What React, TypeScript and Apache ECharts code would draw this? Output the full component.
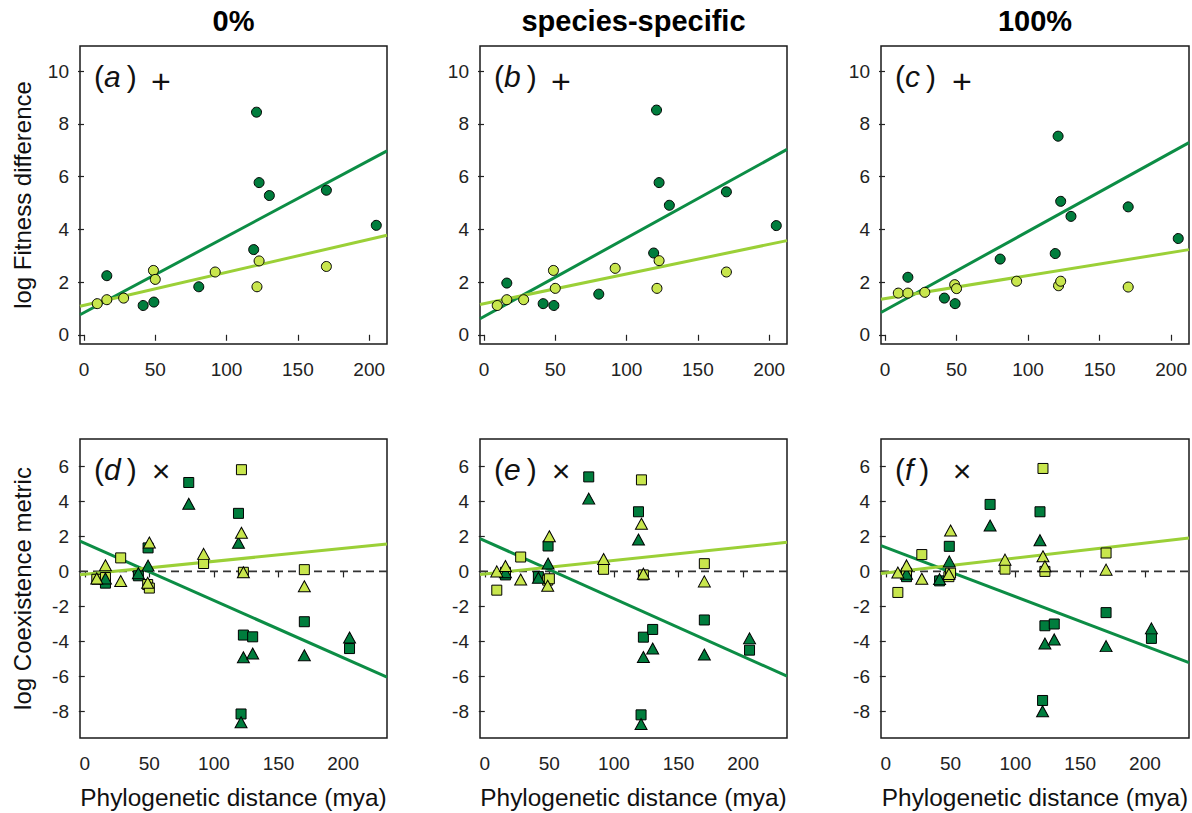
import React, { useEffect, useRef } from "react";
import * as echarts from "echarts";

// ---------- data ----------
const columnTitles = ["0%", "species-specific", "100%"];
const panelLetters = ["a", "b", "c", "d", "e", "f"];
const panelSymbols = ["+", "+", "+", "\u00d7", "\u00d7", "\u00d7"];

// phylogenetic distances (mya) of the two pair groups
const distDark = [16, 41.5, 49, 80.5, 119, 121, 122.8, 130, 170, 205];
const distLight = [9.3, 16, 27.8, 48.7, 50, 92, 121.3, 122.8, 170];

// log fitness difference (top row)
const fitDarkA = [2.24, 1.11, 1.24, 1.82, 3.23, 8.44, 5.77, 5.28, 5.48, 4.15];
const fitLightA = [1.18, 1.33, 1.39, 2.44, 2.1, 2.38, 1.82, 2.8, 2.59];
const fitDarkB = [1.96, 1.18, 1.11, 1.54, 3.1, 8.52, 5.77, 4.91, 5.42, 4.14];
const fitLightB = [1.11, 1.33, 1.33, 2.44, 1.76, 2.52, 1.76, 2.81, 2.38];
const fitDarkC = [2.18, 1.39, 1.18, 2.87, 3.08, 7.53, 5.06, 4.49, 4.85, 3.65];
const fitLightC = [1.58, 1.58, 1.61, 1.9, 1.75, 2.03, 1.86, 2.03, 1.81];

// log coexistence metric (bottom row): squares and triangles
const coexDarkSqD = [-0.67, -0.25, 1.34, 5.07, 3.31, -8.13, -3.63, -3.73, -2.87, -4.4];
const coexDarkTriD = [-0.4, -0.1, 0.33, 3.86, 1.63, -8.6, -4.9, -4.68, -4.78, -3.77];
const coexLightSqD = [-0.45, -0.35, 0.77, -0.75, -0.95, 0.45, 5.8, -0.05, 0.1];
const coexLightTriD = [-0.4, 0.35, -0.55, -0.65, 1.65, 1.0, 2.2, -0.05, -0.85];

const coexDarkSqE = [-0.2, -0.3, 1.45, 5.39, 3.4, -8.18, -3.75, -3.31, -2.77, -4.49];
const coexDarkTriE = [-0.05, -0.36, 0.45, 4.15, 1.82, -8.7, -4.88, -4.4, -4.74, -3.82];
const coexLightSqE = [-1.07, -0.05, 0.82, -0.5, -0.42, 0.12, 5.22, -0.2, 0.44];
const coexLightTriE = [0.0, 0.31, -0.46, -0.82, 2.0, 0.71, 2.72, -0.13, -0.57];

const coexDarkSqF = [-0.3, -0.54, 1.43, 3.82, 3.4, -7.36, -3.1, -3.0, -2.35, -3.82];
const coexDarkTriF = [-0.13, -0.44, 0.57, 2.62, 1.78, -7.97, -4.11, -3.88, -4.26, -3.25];
const coexLightSqF = [-1.2, -0.1, 0.96, -0.3, -0.1, 0.13, 5.87, 0.0, 1.05];
const coexLightTriF = [-0.06, 0.34, -0.42, -0.15, 2.33, 0.67, 0.86, 0.29, 0.1];

// fitted regression lines: [intercept, slope]
const fitDarkLine = [[0.84, 0.02885], [0.69, 0.02983], [0.93, 0.0299]];
const fitLightLine = [[1.115, 0.01252], [1.18, 0.01125], [1.375, 0.00872]];
const coexDarkLine = [[1.6, -0.0326], [1.75, -0.033], [1.37, -0.0281]];
const coexLightLine = [[-0.17, 0.00742], [-0.15, 0.00774], [-0.09, 0.00855]];

// axis ticks
const xTicks = [0, 50, 100, 150, 200];
const fitTicks = [0, 2, 4, 6, 8, 10];
const coexTicks = [-8, -6, -4, -2, 0, 2, 4, 6];

// ---------- styling / layout ----------
const FONT = "'Liberation Sans', Arial, Helvetica, sans-serif";
const DARK_FILL = "#007D3D";
const LIGHT_FILL = "#C8E64D";
const DARK_LINE = "#0C8D45";
const LIGHT_LINE = "#9BD037";
const colLeft = [80, 480, 881];
const colWidth = [307, 307, 308];
const rowTop = [46, 439];
const rowHeight = [298, 299];
const topX: [number, number] = [-2.8, 212.5];
const botX: [number, number] = [-3.7, 234];
const topY: [number, number] = [-0.35, 10.95];
const botY: [number, number] = [-9.5, 7.55];

function buildOption() {
  const grids: any[] = [];
  const xAxes: any[] = [];
  const yAxes: any[] = [];
  const series: any[] = [];
  const graphic: any[] = [];

  const fitDark = [fitDarkA, fitDarkB, fitDarkC];
  const fitLight = [fitLightA, fitLightB, fitLightC];
  const cDarkSq = [coexDarkSqD, coexDarkSqE, coexDarkSqF];
  const cDarkTri = [coexDarkTriD, coexDarkTriE, coexDarkTriF];
  const cLightSq = [coexLightSqD, coexLightSqE, coexLightSqF];
  const cLightTri = [coexLightTriD, coexLightTriE, coexLightTriF];

  const pts = (xs: number[], ys: number[]) => xs.map((x, k) => [x, ys[k]]);
  const scatter = (i: number, xs: number[], ys: number[], symbol: string, size: any, color: string) => ({
    type: "scatter",
    xAxisIndex: i,
    yAxisIndex: i,
    symbol,
    symbolSize: size,
    data: pts(xs, ys),
    itemStyle: { color, borderColor: "#000", borderWidth: 1, opacity: 1 },
    silent: true,
    z: 3,
  });
  const fitLine = (i: number, ab: number[], xr: [number, number], color: string) => ({
    type: "line",
    xAxisIndex: i,
    yAxisIndex: i,
    symbol: "none",
    silent: true,
    z: 2,
    data: [
      [xr[0], ab[0] + ab[1] * xr[0]],
      [xr[1], ab[0] + ab[1] * xr[1]],
    ],
    lineStyle: { color, width: 3 },
  });

  for (let i = 0; i < 6; i++) {
    const row = i < 3 ? 0 : 1;
    const col = i % 3;
    const xr = row === 0 ? topX : botX;
    const yr = row === 0 ? topY : botY;
    const yt = row === 0 ? fitTicks : coexTicks;
    grids.push({
      left: colLeft[col],
      top: rowTop[row],
      width: colWidth[col],
      height: rowHeight[row],
      show: true,
      borderColor: "#1a1a1a",
      borderWidth: 1.5,
      backgroundColor: "transparent",
      containLabel: false,
      outerBoundsMode: "none",
    });
    xAxes.push({
      gridIndex: i,
      type: "value",
      min: xr[0],
      max: xr[1],
      axisLine: { show: false },
      axisTick: { show: true, length: 6, lineStyle: { color: "#222", width: 1.2 }, customValues: xTicks },
      axisLabel: { customValues: xTicks, fontSize: 19, color: "#222", margin: 16, fontFamily: FONT },
      splitLine: { show: false },
    });
    yAxes.push({
      gridIndex: i,
      type: "value",
      min: yr[0],
      max: yr[1],
      axisLine: { show: false },
      axisTick: { show: true, length: 6, lineStyle: { color: "#222", width: 1.2 }, customValues: yt },
      axisLabel: { customValues: yt, fontSize: 19, color: "#222", margin: 11, fontFamily: FONT },
      splitLine: { show: false },
    });

    if (row === 0) {
      series.push(fitLine(i, fitDarkLine[col], xr, DARK_LINE));
      series.push(fitLine(i, fitLightLine[col], xr, LIGHT_LINE));
      series.push(scatter(i, distDark, fitDark[col], "circle", 10, DARK_FILL));
      series.push(scatter(i, distLight, fitLight[col], "circle", 10, LIGHT_FILL));
    } else {
      series.push({
        type: "line",
        xAxisIndex: i,
        yAxisIndex: i,
        symbol: "none",
        silent: true,
        z: 1,
        data: [
          [xr[0], 0],
          [xr[1], 0],
        ],
        lineStyle: { color: "#333", width: 1.8, type: [8, 5] },
      });
      series.push(fitLine(i, coexDarkLine[col], xr, DARK_LINE));
      series.push(fitLine(i, coexLightLine[col], xr, LIGHT_LINE));
      series.push(scatter(i, distDark, cDarkSq[col], "rect", 10, DARK_FILL));
      series.push(scatter(i, distLight, cLightSq[col], "rect", 10, LIGHT_FILL));
      series.push(scatter(i, distDark, cDarkTri[col], "triangle", [12, 11], DARK_FILL));
      series.push(scatter(i, distLight, cLightTri[col], "triangle", [12, 11], LIGHT_FILL));
    }

    // panel label "(a)" with italic letter, plus the sign symbol
    const left = colLeft[col];
    const top = rowTop[row];
    graphic.push({
      type: "text",
      x: left + 14,
      y: top + 30,
      silent: true,
      style: {
        text: `{p|(}{l|${panelLetters[i]}}{p|\u2009)}`,
        textAlign: "left",
        textVerticalAlign: "middle",
        fill: "#111",
        fontSize: 30,
        fontFamily: FONT,
        rich: {
          p: { fontSize: 30, fontFamily: FONT, fill: "#111" },
          l: { fontSize: 30, fontFamily: FONT, fontStyle: "italic", fill: "#111" },
        },
      },
    });
    graphic.push({
      type: "text",
      x: left + 81,
      y: top + (row === 0 ? 35 : 32),
      silent: true,
      style: {
        text: panelSymbols[i],
        textAlign: "center",
        textVerticalAlign: "middle",
        fill: "#111",
        fontSize: row === 0 ? 34 : 32,
        fontFamily: FONT,
      },
    });
  }

  // column titles and x-axis titles
  for (let c = 0; c < 3; c++) {
    graphic.push({
      type: "text",
      x: colLeft[c] + colWidth[c] / 2,
      y: 21,
      silent: true,
      style: {
        text: columnTitles[c],
        textAlign: "center",
        textVerticalAlign: "middle",
        fill: "#000",
        fontSize: 29,
        fontWeight: "bold",
        fontFamily: FONT,
      },
    });
    graphic.push({
      type: "text",
      x: colLeft[c] + colWidth[c] / 2,
      y: 797,
      silent: true,
      style: {
        text: "Phylogenetic distance (mya)",
        textAlign: "center",
        textVerticalAlign: "middle",
        fill: "#111",
        fontSize: 24.4,
        fontFamily: FONT,
      },
    });
  }

  // y-axis titles
  const yTitles = ["log Fitness difference", "log Coexistence metric"];
  for (let r = 0; r < 2; r++) {
    graphic.push({
      type: "text",
      x: 22,
      y: rowTop[r] + rowHeight[r] / 2,
      rotation: Math.PI / 2,
      silent: true,
      style: {
        text: yTitles[r],
        textAlign: "center",
        textVerticalAlign: "middle",
        fill: "#111",
        fontSize: 24,
        fontFamily: FONT,
      },
    });
  }

  return {
    animation: false,
    backgroundColor: "#ffffff",
    grid: grids,
    xAxis: xAxes,
    yAxis: yAxes,
    series,
    graphic,
  };
}

export default function App() {
  const ref = useRef<HTMLDivElement>(null);
  useEffect(() => {
    if (!ref.current) return;
    const chart = echarts.init(ref.current, undefined, { renderer: "svg" });
    chart.setOption(buildOption() as any);
    return () => chart.dispose();
  }, []);
  return (
    <div
      ref={ref}
      style={{ position: "absolute", left: 0, top: 0, width: 1192, height: 813, background: "#fff" }}
    />
  );
}
